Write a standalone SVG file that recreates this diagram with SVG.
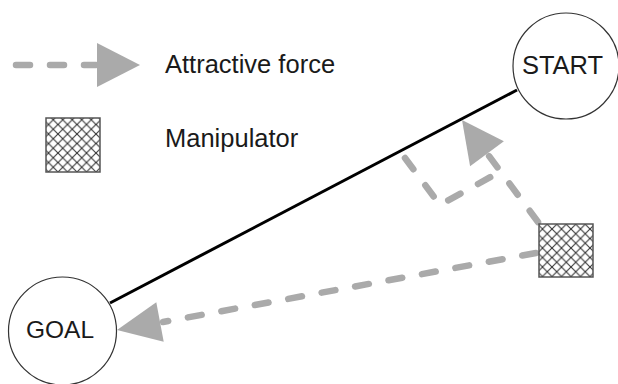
<svg xmlns="http://www.w3.org/2000/svg" width="618" height="384" viewBox="0 0 618 384">
<style>
.force{fill:none;stroke:#aaaaaa;stroke-width:6.5;stroke-linecap:round;stroke-dasharray:14 20}
.head{fill:#aaaaaa;stroke:none}
.node{fill:#ffffff;stroke:#333333;stroke-width:1.2}
.txt{font-family:"Liberation Sans",Arial,sans-serif;font-size:25.5px;fill:#1a1a1a}
.manip{fill:url(#hatch);stroke:#555555;stroke-width:1.5}
</style>
<defs>
<pattern id="hatch" x="1" y="1" width="9.5" height="9.5" patternUnits="userSpaceOnUse">
<rect width="9.5" height="9.5" fill="#ffffff"/>
<path d="M0,0 L9.5,9.5 M9.5,0 L0,9.5" stroke="#333333" stroke-width="1.1"/>
</pattern>
</defs>
<g id="legend">
<g id="legend-force">
<path class="force" d="M16,65 L96,65"/>
<polygon class="head" points="97,43 140,65 97,87"/>
<text class="txt" x="165" y="73">Attractive force</text>
</g>
<g id="legend-manipulator">
<rect class="manip" x="46" y="118" width="54" height="54"/>
<text class="txt" x="165" y="147">Manipulator</text>
</g>
</g>
<g id="connectors">
<line id="path" x1="110" y1="303" x2="517" y2="90" stroke="#000000" stroke-width="3"/>
<path class="force" d="M536,253 L163,322"/>
<polygon class="head" points="117,330 156.3,302.3 163.7,341.7"/>
<path class="force" d="M538,222 L489,156"/>
<polygon class="head" points="462,120 503.9,141.2 470.1,166.2"/>
<path class="force" d="M405,158 L440,205 L496,174"/>
</g>
<g id="start">
<circle class="node" cx="566" cy="66" r="53"/>
<text class="txt" x="562.5" y="74" text-anchor="middle" style="font-size:25.5px">START</text>
</g>
<g id="goal">
<circle class="node" cx="62.5" cy="331" r="54"/>
<text class="txt" x="60" y="338" text-anchor="middle" style="font-size:24.5px">GOAL</text>
</g>
<g id="manipulator">
<rect class="manip" x="539" y="224" width="54" height="53"/>
</g>
</svg>
